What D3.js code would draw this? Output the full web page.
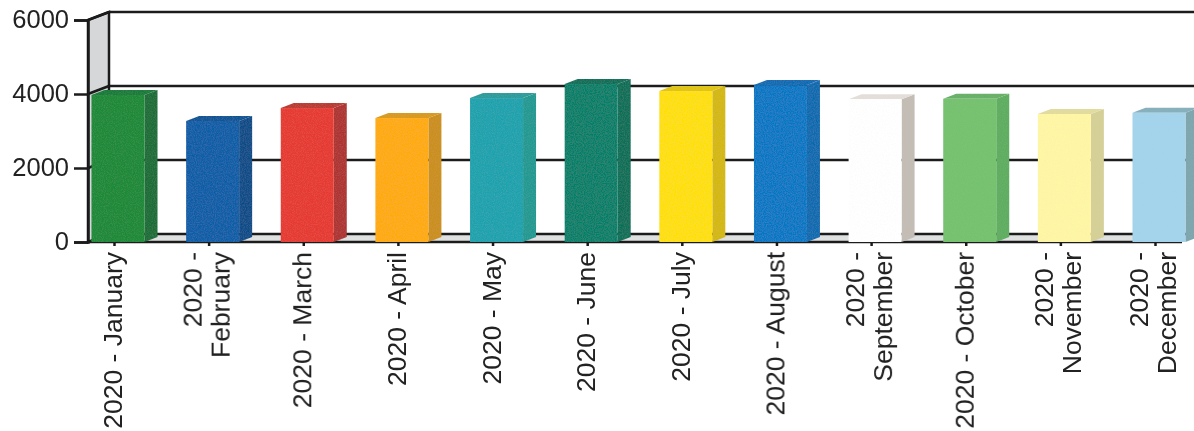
<!DOCTYPE html>
<html>
<head>
<meta charset="utf-8">
<script src="https://cdn.jsdelivr.net/npm/d3@7"></script>
<style>
  html, body { margin: 0; padding: 0; background: #fff; }
  svg { display: block; }
  text { font-family: "Liberation Sans", Arial, sans-serif; fill: #222; }
  .tick text { font-size: 25.5px; }
</style>
</head>
<body>
<div class="viz"></div>
<script>
const months = ['2020 - January', '2020 - February', '2020 - March', '2020 - April', '2020 - May', '2020 - June',
  '2020 - July', '2020 - August', '2020 - September', '2020 - October', '2020 - November', '2020 - December']
const values = [3975, 3270, 3620, 3350, 3890, 4270, 4080, 4240, 3860, 3870, 3460, 3490]
const frontColors = ['#1a8a38', '#0a5ea8', '#e63a30', '#ffab0a', '#1ba3ae', '#06806a', '#ffe000', '#0078c4', '#ffffff', '#75c26e', '#fff7a5', '#a3d4ec']
const sideColors = ['#1a6e38', '#0b4d88', '#ae3432', '#cc8f1a', '#239a92', '#0a6f58', '#d4b80c', '#0a6cb0', '#c4bdb6', '#5fae60', '#d6d096', '#7ea6ae']
const topColors = ['#187c3a', '#0c5494', '#ba3a30', '#d99a1a', '#2a9c9c', '#0a7058', '#e0c408', '#0a6cb4', '#e4dfda', '#68b067', '#e2dc9e', '#86b0bc']
const yTicks = [0, 2000, 4000, 6000]

const width = 1194
const height = 431
const depth = {x: 21, y: -8}       // wall depth
const barDepth = {x: 13, y: -5}    // bar depth
const barWidth = 53

const svg = d3.select('.viz').append('svg')
  .attr('width', width)
  .attr('height', height)

const defs = svg.append('defs')
const grain = defs.append('filter').attr('id', 'grain')
  .attr('x', 0).attr('y', 0).attr('width', 1).attr('height', 1)
grain.append('feTurbulence').attr('type', 'fractalNoise').attr('baseFrequency', 0.9).attr('numOctaves', 2).attr('seed', 4).attr('result', 'n')
grain.append('feColorMatrix').attr('in', 'n').attr('type', 'matrix')
  .attr('values', '0 0 0 0 0.55  0 0 0 0 0.55  0 0 0 0 0.55  0.16 0 0 0 -0.06').attr('result', 'speck')
grain.append('feComposite').attr('in', 'speck').attr('in2', 'SourceAlpha').attr('operator', 'in').attr('result', 'speckIn')
grain.append('feMerge').selectAll('feMergeNode')
  .data(['SourceGraphic', 'speckIn']).join('feMergeNode').attr('in', d => d)
defs.append('filter').attr('id', 'soft').append('feGaussianBlur').attr('stdDeviation', 0.5)

const x = d3.scalePoint().domain(months).range([114, 1155])
const y = d3.scaleLinear().domain([0, 6000]).range([242, 20])

const g = svg.append('g').attr('filter', 'url(#soft)')

// left wall and floor
const x0 = 88
g.append('path')
  .attr('d', `M${x0},${y(0)}L${x0 + depth.x},${y(0) + depth.y}L${x0 + depth.x},${y(6000) + depth.y}L${x0},${y(6000)}Z`)
  .attr('fill', '#d6d7d8')
  .attr('stroke', '#1a1a1a')
  .attr('stroke-width', 2.5)
g.append('path')
  .attr('d', `M${x0},${y(0)}L${x0 + depth.x},${y(0) + depth.y}L${width},${y(0) + depth.y}L${width},${y(0) + depth.y + 1}L1182,${y(0)}Z`)
  .attr('fill', '#dfe0e0')

// back grid lines
g.append('g').selectAll('line')
  .data(yTicks)
  .join('line')
  .attr('x1', x0 + depth.x)
  .attr('x2', width)
  .attr('y1', d => y(d) + depth.y)
  .attr('y2', d => y(d) + depth.y)
  .attr('stroke', '#1a1a1a')
  .attr('stroke-width', 2.5)

// side grid lines on the wall
g.append('g').selectAll('line')
  .data(yTicks.slice(1))
  .join('line')
  .attr('x1', x0)
  .attr('x2', x0 + depth.x)
  .attr('y1', d => y(d))
  .attr('y2', d => y(d) + depth.y)
  .attr('stroke', '#1a1a1a')
  .attr('stroke-width', 2.5)

// axes
const yAxis = g.append('g')
  .attr('transform', `translate(${x0},0)`)
  .call(d3.axisLeft(y).tickValues(yTicks).tickFormat(d => d).tickSize(14).tickPadding(5))
yAxis.selectAll('line').attr('stroke', '#1a1a1a').attr('stroke-width', 2.5)
yAxis.select('.domain').attr('stroke', '#1a1a1a').attr('stroke-width', 2.5)
yAxis.selectAll('text').attr('dy', '0.3em')

const xAxis = g.append('g')
  .attr('transform', `translate(0,${y(0)})`)
  .call(d3.axisBottom(x).tickSize(4).tickFormat(''))
xAxis.selectAll('line').attr('stroke', '#1a1a1a').attr('stroke-width', 2.5)
xAxis.select('.domain').remove()
g.append('line')
  .attr('x1', x0).attr('x2', 1182)
  .attr('y1', y(0)).attr('y2', y(0))
  .attr('stroke', '#1a1a1a').attr('stroke-width', 2.5)

// bars
const bars = g.append('g').selectAll('g')
  .data(months)
  .join('g')
  .attr('filter', 'url(#grain)')

const left = d => x(d) - 22.5
const top_ = (d, i) => y(values[i])

bars.append('path')
  .attr('d', (d, i) => {
    const a = left(d), b = a + barWidth, t = top_(d, i)
    return `M${b},${t}L${b + barDepth.x},${t + barDepth.y}L${b + barDepth.x},${y(0) + barDepth.y}L${b},${y(0)}Z`
  })
  .attr('fill', (d, i) => sideColors[i])

bars.append('path')
  .attr('d', (d, i) => {
    const a = left(d), b = a + barWidth, t = top_(d, i)
    return `M${a},${t}L${a + barDepth.x},${t + barDepth.y}L${b + barDepth.x},${t + barDepth.y}L${b},${t}Z`
  })
  .attr('fill', (d, i) => topColors[i])

bars.append('rect')
  .attr('x', d => left(d))
  .attr('y', (d, i) => top_(d, i))
  .attr('width', barWidth)
  .attr('height', (d, i) => y(0) - top_(d, i))
  .attr('fill', (d, i) => frontColors[i])

// month labels, long ones wrap after the dash
const labels = g.append('g').selectAll('text')
  .data(months)
  .join('text')
  .attr('class', 'label')
  .attr('text-anchor', 'end')
  .attr('font-size', 26.5)
  .attr('transform', d => `translate(${x(d)},252) rotate(-90)`)

labels.each(function(d) {
  const t = d3.select(this)
  if (d.length > 13 && d !== '2020 - January' && d !== '2020 - October') {
    const parts = d.split(' - ')
    t.append('tspan').attr('x', 0).attr('y', -7).text(parts[0] + ' -')
    t.append('tspan').attr('x', 0).attr('y', 21).text(parts[1])
  } else {
    t.append('tspan').attr('x', 0).attr('y', 8).text(d)
  }
})
</script>
</body>
</html>
